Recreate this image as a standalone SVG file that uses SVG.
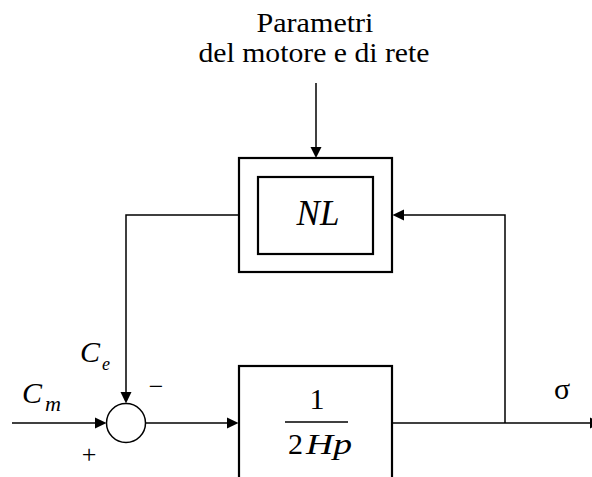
<svg xmlns="http://www.w3.org/2000/svg" width="592" height="477" viewBox="0 0 592 477">
<style>
.t{font-family:"Liberation Serif","Times New Roman",serif;fill:#000}
.i{font-style:italic}
.box{fill:none;stroke:#000;stroke-width:2.2}
.ln{fill:none;stroke:#000;stroke-width:1.5}
.ah{fill:#000;stroke:none}
</style>
<rect width="592" height="477" fill="#fff"/>
<g id="label-params">
<text class="t" x="315" y="32" font-size="27" text-anchor="middle" textLength="117" lengthAdjust="spacingAndGlyphs">Parametri</text>
<text class="t" x="314" y="62" font-size="27" text-anchor="middle" textLength="231" lengthAdjust="spacingAndGlyphs">del motore e di rete</text>
</g>
<g id="nl-block">
<rect class="box" x="239" y="158" width="153" height="114"/>
<rect class="box" x="258" y="177" width="115" height="77"/>
<text class="t i" x="318" y="225" font-size="35" text-anchor="middle">NL</text>
</g>
<g id="sum">
<circle cx="126" cy="423" r="19.5" fill="#fff" stroke="#000" stroke-width="1.5"/>
<text class="t" x="156" y="395" font-size="26" text-anchor="middle">−</text>
<text class="t" x="89" y="463" font-size="26" text-anchor="middle">+</text>
</g>
<g id="integrator">
<rect class="box" x="239" y="366" width="153" height="120"/>
<text class="t" x="317" y="409" font-size="30" text-anchor="middle">1</text>
<line x1="285" y1="422" x2="348" y2="422" stroke="#000" stroke-width="1.3"/>
<text class="t" x="288" y="454" font-size="30">2</text>
<text class="t i" x="306" y="454" font-size="30" textLength="46" lengthAdjust="spacingAndGlyphs">Hp</text>
</g>
<g id="labels">
<text class="t i" x="22" y="403" font-size="30">C</text>
<text class="t i" x="45" y="411" font-size="21" textLength="16" lengthAdjust="spacingAndGlyphs">m</text>
<text class="t i" x="80" y="362" font-size="30">C</text>
<text class="t i" x="102" y="370" font-size="18">e</text>
<text class="t" x="562" y="399" font-size="30" text-anchor="middle">σ</text>
</g>
<g id="connectors">
<line class="ln" x1="316" y1="83" x2="316" y2="148"/>
<polygon class="ah" points="310.5,147 321.5,147 316,158"/>
<polyline class="ln" points="239,215 126,215 126,393"/>
<polygon class="ah" points="120.5,392 131.5,392 126,403.5"/>
<polyline class="ln" points="505,423 505,215 403,215"/>
<polygon class="ah" points="404,209.5 404,220.5 392.5,215"/>
<line class="ln" x1="12" y1="423" x2="96" y2="423"/>
<polygon class="ah" points="95,417.5 95,428.5 106.5,423"/>
<line class="ln" x1="145.5" y1="423" x2="228" y2="423"/>
<polygon class="ah" points="227,417.5 227,428.5 238.5,423"/>
<line class="ln" x1="392" y1="423" x2="592" y2="423"/>
<polygon class="ah" points="590,417.5 590,428.5 601.5,423"/>
</g>
</svg>
